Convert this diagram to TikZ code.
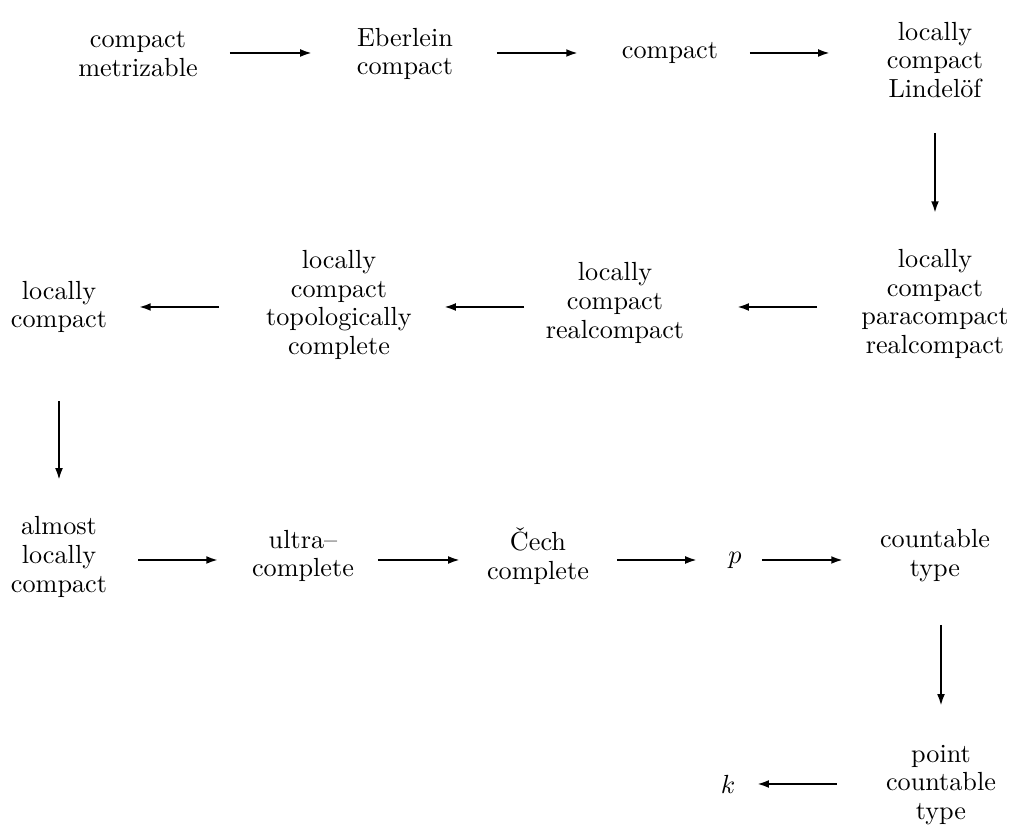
\documentclass[tikz,border=0pt]{standalone}
\usepackage{tikz}
\usetikzlibrary{arrows.meta}
\tikzset{
  prop/.style={align=center, inner sep=0pt, font=\fontsize{10pt}{11pt}\selectfont},
  impl/.style={line width=0.8pt, -{Latex[length=4.5pt,width=3pt]}}
}
\newcommand{\implies}[4]{\draw[impl, shorten <=#3, shorten >=#4] #1 -- #2;}
\begin{document}
\begin{tikzpicture}[x=0.3817pt, y=-0.3817pt]
\useasboundingbox (0,0) rectangle (1012,825);
\node[prop] (cm) at (138,54) {compact\\metrizable};
\node[prop] (ebc) at (405,54) {Eberlein\\compact};
\node[prop] (cpt) at (670,53) {compact};
\node[prop] (lcl) at (935,60) {locally\\compact\\Lindel\"of};
\node[prop] (lcpr) at (935,304) {locally\\compact\\paracompact\\realcompact};
\node[prop] (lcr) at (615,303) {locally\\compact\\realcompact};
\node[prop] (lctc) at (339,305) {locally\\compact\\topologically\\complete};
\node[prop] (lc) at (59,307) {locally\\compact};
\node[prop] (alc) at (59,557) {almost\\locally\\compact};
\node[prop] (uc) at (303,556) {ultra--\\complete};
\node[prop] (cc) at (538,556) {\v{C}ech\\complete};
\node[prop] (pp) at (735,560) {$p$};
\node[prop] (ct) at (935,556) {countable\\type};
\node[prop] (pct) at (941,785) {point\\countable\\type};
\node[prop] (kk) at (728,784) {$k$};
\implies{(cm |- cpt)}{(ebc |- cpt)}{35.1pt}{35.5pt}
\implies{(ebc |- cpt)}{(cpt.center)}{35.1pt}{35.1pt}
\implies{(cpt.center)}{(lcl |- cpt)}{30.5pt}{40.1pt}
\implies{(lcl.center)}{(lcpr.center)}{27.9pt}{34.7pt}
\implies{(lcpr |- lc)}{(lcr |- lc)}{45pt}{46.6pt}
\implies{(lcr |- lc)}{(lctc |- lc)}{34.7pt}{40.1pt}
\implies{(lctc |- lc)}{(lc.center)}{45.8pt}{30.5pt}
\implies{(lc.center)}{(alc.center)}{35.9pt}{29.4pt}
\implies{(alc |- pp)}{(uc |- pp)}{30.2pt}{32.4pt}
\implies{(uc |- pp)}{(cc |- pp)}{28.6pt}{29.8pt}
\implies{(cc |- pp)}{(pp.center)}{30.2pt}{14.5pt}
\implies{(pp.center)}{(ct |- pp)}{10.3pt}{35.1pt}
\implies{(ct -| pct)}{(pct.center)}{26.3pt}{30.2pt}
\implies{(pct |- kk)}{(kk.center)}{39.7pt}{11.1pt}
\end{tikzpicture}
\end{document}
